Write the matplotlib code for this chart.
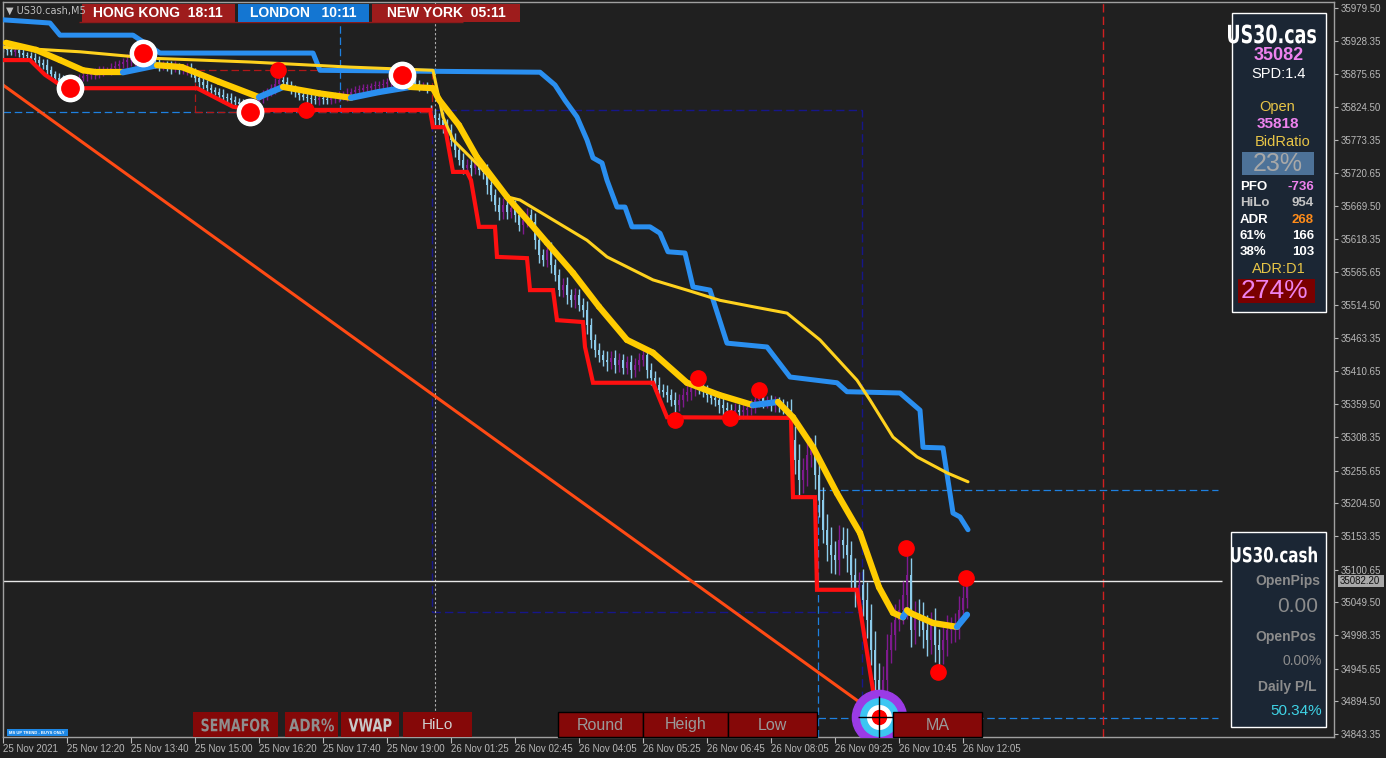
import numpy as np
import matplotlib
matplotlib.use("Agg")
import matplotlib.pyplot as plt
from matplotlib.patches import Rectangle, PathPatch
from matplotlib.collections import LineCollection
from matplotlib.textpath import TextPath
from matplotlib.font_manager import FontProperties
from matplotlib.transforms import Affine2D, IdentityTransform

plt.rcParams['font.family'] = ['Liberation Sans', 'DejaVu Sans']

# ---------------- data (US30.cash M5) ----------------
first_open = 35920
day_open = 35818          # opening price of 26 Nov (bar 107)
closes = [
    35917, 35914, 35911, 35914, 35909, 35906, 35904, 35901, 35898, 35893,
    35890, 35882, 35876, 35870, 35864, 35861, 35859, 35864, 35867,
    35870, 35873, 35875, 35876, 35879, 35879,
    35882, 35882, 35886, 35889, 35892, 35895, 35898,
    35901, 35906, 35911, 35904, 35898,
    35895, 35892, 35889, 35890, 35887, 35886, 35889, 35882, 35882, 35886, 35879,
    35870, 35864, 35859, 35854, 35851, 35848, 35843, 35840, 35839, 35835, 35832, 35829, 35826, 35823, 35826,
    35832, 35839, 35843, 35848, 35854, 35861,
    35867, 35864, 35859,
    35851, 35848, 35843, 35840, 35839, 35837, 35835, 35839, 35837,
    35835, 35839, 35840, 35842, 35843, 35845, 35848, 35851, 35851, 35854,
    35854, 35857, 35857, 35859, 35860, 35864, 35867, 35870, 35873, 35870, 35867, 35864, 35860, 35857, 35857, 35854,
    # 26 Nov
    35812, 35807, 35804, 35796,
    35789, 35773, 35757, 35742, 35729,
    35734, 35729, 35738, 35726, 35723,
    35702, 35687, 35671, 35660, 35671,
    35660, 35667, 35656, 35640, 35648, 35656, 35645,
    35616, 35593, 35585, 35601, 35577, 35562,
    35538, 35546, 35530, 35522, 35530, 35515, 35507,
    35483, 35460, 35444, 35436, 35429,
    35425, 35432, 35421, 35429, 35416, 35425, 35413, 35421, 35429, 35436,
    35413, 35401, 35390, 35382, 35379,
    35374, 35366, 35358, 35366, 35374, 35379, 35385,
    35389, 35385, 35379, 35374, 35369, 35366,
    35358, 35353, 35350, 35347, 35350, 35347, 35350, 35353, 35358, 35366, 35369, 35363,
    35363, 35360, 35361, 35358, 35353, 35350,
    35303, 35272, 35241, 35256, 35280, 35288, 35249,
    35209, 35163, 35139, 35123, 35116, 35147,
    35139, 35123, 35092, 35069, 35076, 35053,
    35022, 34975, 34928, 34896, 34928,
    34975, 34999, 35022, 35037,
    35061, 35092, 35006, 35030,
    35022, 35006, 34990, 35014, 34983, 34975, 34990, 35006,
    35006, 35014, 35037, 35056, 35082,
]
wicks = [
    6, 8, 5, 7, 6, 9, 5, 6, 8, 7, 6, 9, 7, 5, 8, 10, 8, 6, 7, 6,
    5, 8, 6, 7, 9, 6, 5, 7, 8, 6, 7, 9, 10, 12, 8, 6, 7, 5, 6, 8,
    7, 6, 9, 7, 5, 6, 8, 7, 6, 9, 7, 8, 6, 5, 7, 9, 6, 8, 7, 6,
    8, 10, 9, 7, 6, 8, 7, 6, 9, 12, 8, 7, 6, 8, 7, 5, 9, 7, 6, 8,
    7, 6, 5, 8, 7, 6, 9, 7, 6, 8, 6, 7, 5, 8, 7, 9, 6, 8, 10, 12,
    9, 7, 6, 8, 7, 6, 7,
    9, 10, 8, 12, 10, 9, 11, 8, 10, 9, 12, 10, 8, 11, 13, 10, 9, 12, 11, 10,
    9, 12, 10, 14, 11, 9, 13, 12, 10, 11, 12, 10, 9, 11, 13, 10, 12, 9, 11, 14,
    12, 10, 11, 9, 13, 10, 12, 11, 9, 10, 12, 11, 10, 9, 13, 11, 10, 12, 9, 11,
    10, 12, 9, 11, 10, 13, 12, 10, 9, 11, 10, 9, 12, 11, 10, 9, 12, 10, 11, 9,
    10, 12, 11, 9, 10, 11, 12, 10, 9, 11,
    18, 22, 25, 20, 24, 19, 23, 26, 21, 25, 28, 22, 24, 20, 26, 23, 27, 21, 25, 28,
    24, 30, 26, 22, 25, 20, 24, 18, 22, 38, 26, 22, 25, 28, 24, 21, 27, 25, 22, 24,
    20, 18, 22, 19, 16,
]

# HiLo lower band (red)
hilo_dn_bar = [0, 6.75, 10.5, 15.5, 48.5, 57.5, 62.5, 106.75, 107.5, 110.5, 112.5, 116, 117, 119,
               123, 123.5, 131, 131.75, 137.5, 138.5, 145, 145.5, 147.5, 162.5, 166, 197, 197.5,
               203, 203.5, 213.5, 217.5, 219]
hilo_dn_px = [35898, 35898, 35875, 35854, 35854, 35825, 35820, 35820, 35793, 35793, 35723, 35723, 35710, 35637,
              35637, 35590, 35588, 35538, 35538, 35491, 35488, 35449, 35393, 35393, 35339, 35338, 35214,
              35214, 35069, 35069, 34912, 34871]
# HiLo upper band (blue)
hilo_up_bar = [0, 11.75, 14.25, 32.5, 39.25, 77.5, 79.25, 134.25, 138, 140.5, 143.5, 146, 147.5, 149.75,
               151, 153.5, 155.5, 157.25, 161.75, 164.25, 166.25, 170.5, 172.5, 176.75, 181, 191, 196.75,
               208.5, 211, 224.25, 229.25, 230, 235, 237.5, 239.25, 241.25]
hilo_up_px = [35961, 35956, 35937, 35937, 35909, 35909, 35882, 35879, 35859, 35835, 35809, 35773, 35745, 35737,
              35710, 35668, 35668, 35637, 35637, 35627, 35598, 35596, 35543, 35538, 35455, 35449, 35402,
              35393, 35379, 35377, 35350, 35292, 35291, 35189, 35183, 35163]
# fast MA (thick, yellow falling / blue rising)
ma_fast_bar = [0.75, 8.25, 14.25, 20, 23.5, 30, 38.5, 44.75, 54, 64, 70, 79, 87, 94, 101.75, 107.5, 109,
               114, 118.5, 126, 131.75, 136, 142.5, 149, 156, 162.5, 171, 179, 187.5, 193.75, 197.5,
               202.5, 208.5, 214.25, 219, 222.5, 225, 226, 226.75, 232.5, 238.5, 241]
ma_fast_px = [35925, 35914, 35898, 35882, 35879, 35879, 35890, 35887, 35864, 35840, 35856, 35846, 35839, 35848,
              35856, 35854, 35836, 35796, 35746, 35684, 35643, 35612, 35565, 35512, 35460, 35440, 35393,
              35374, 35358, 35363, 35339, 35292, 35220, 35158, 35073, 35033, 35026, 35037, 35033, 35017,
              35011, 35030]
# slow MA (thin yellow)
ma_slow_bar = [0, 19.25, 36.75, 61.75, 86.75, 107.5, 110, 112.5, 119.25, 126, 129.25, 137.5, 146, 151,
               162.5, 171, 179.25, 187.5, 196, 204.25, 213.5, 216.75, 222.5, 228.5, 236, 241.25]
ma_slow_px = [35918, 35911, 35901, 35895, 35887, 35882, 35809, 35773, 35731, 35684, 35679, 35648, 35616, 35590,
              35554, 35538, 35522, 35512, 35502, 35460, 35397, 35366, 35308, 35277, 35252, 35238]
# trend line
trend_bar = [0, 215.5]
trend_px = [35859, 34887]
# semafor points
ring_bar = [16.75, 35, 61.75, 99.75]
ring_px = [35854, 35909, 35817, 35875]
dot_bar = [68.75, 75.75, 168, 173.75, 181.75, 189, 225.75, 233.75, 240.75]
dot_px = [35882, 35820, 35335, 35400, 35338, 35382, 35134, 34940, 35087]
target_bar, target_px = 219, 34870

bid = 35082.20
yticks = [35979.50, 35928.35, 35875.65, 35824.50, 35773.35, 35720.65, 35669.50, 35618.35,
          35565.65, 35514.50, 35463.35, 35410.65, 35359.50, 35308.35, 35255.65, 35204.50,
          35153.35, 35100.65, 35049.50, 34998.35, 34945.65, 34894.50, 34843.35]
xtick_labels = ["25 Nov 2021", "25 Nov 12:20", "25 Nov 13:40", "25 Nov 15:00", "25 Nov 16:20",
                "25 Nov 17:40", "25 Nov 19:00", "26 Nov 01:25", "26 Nov 02:45", "26 Nov 04:05",
                "26 Nov 05:25", "26 Nov 06:45", "26 Nov 08:05", "26 Nov 09:25", "26 Nov 10:45",
                "26 Nov 12:05"]

# ---------------- figure ----------------
W, H = 1386, 758
BG = '#202020'
fig = plt.figure(figsize=(W / 100, H / 100), dpi=100)
fig.patch.set_facecolor(BG)
ax = fig.add_axes([3 / W, 1 - 737 / H, (1334 - 3) / W, (737 - 2) / H])
ax.set_facecolor(BG)
ymin, ymax = 34838.6, 35988.9
ax.set_xlim(0, 332.75)
ax.set_ylim(ymin, ymax)


def frect(x0, y0, x1, y1, **kw):
    fig.patches.append(Rectangle((x0 / W, 1 - y1 / H), (x1 - x0) / W, (y1 - y0) / H,
                                 transform=fig.transFigure, **kw))


def ftext(x, y, s, **kw):
    kw.setdefault('va', 'center')
    kw.setdefault('ha', 'center')
    fig.text(x / W, 1 - y / H, s, **kw)


def narrow_text(xc, yc, s, w_px, h_px, color):
    # condensed bold lettering, squeezed to the box it fills in the original
    tp = TextPath((0, 0), s, size=100, prop=FontProperties(family='DejaVu Sans', weight='bold'))
    ext = tp.get_extents()
    tr = (Affine2D().translate(-ext.x0 - ext.width / 2, -ext.y0 - ext.height / 2)
          .scale(w_px / ext.width, h_px / ext.height).translate(xc, H - yc))
    fig.patches.append(PathPatch(tr.transform_path(tp), transform=IdentityTransform(),
                                 fc=color, ec='none', zorder=3))


# helper levels / objects
DASH = (0, (6, 3))
ax.hlines(35817, 0, 106.75, color='#1E80E0', lw=0.9, ls=DASH, zorder=1)
ax.vlines(84.25, 35817, 35958, color='#1E80E0', lw=0.9, ls=DASH, zorder=1)
ax.hlines(35958, 19, 115, color='#8B1A1A', lw=1, zorder=1)
ax.add_patch(Rectangle((48, 35817), 107.25 - 48, 35882 - 35817, fill=False,
                       ec='#B01818', lw=0.9, ls=DASH, zorder=1))
ax.add_patch(Rectangle((107.25, 35034), 214.75 - 107.25, 35820 - 35034, fill=False,
                       ec='#16168A', lw=1, ls=DASH, zorder=1))
ax.vlines(214.75, ymin, 35034, color='#16168A', lw=1, ls=DASH, zorder=1)
ax.vlines(108, ymin, ymax, color='#B0B0B0', lw=0.8, ls=(0, (2, 2)), zorder=1)
ax.hlines([35225, 34868], 203.75, 303.75, color='#1E80E0', lw=0.9, ls=DASH, zorder=1)
ax.vlines(203.75, ymin, 35225, color='#1E80E0', lw=0.9, ls=DASH, zorder=1)
ax.vlines(275, ymin, ymax, color='#D02020', lw=1, ls=DASH, zorder=1)
ax.hlines(bid, 0, 304.75, color='#E8E8E8', lw=1, zorder=1)

# trend line
ax.plot(trend_bar, trend_px, color='#FF4A14', lw=2.2, zorder=2, solid_capstyle='butt')

# candles
c = np.array(closes, dtype=float)
o = np.r_[first_open, c[:-1]]
o[107] = day_open
w = np.array(wicks, dtype=float)
hi = np.maximum(o, c) + w
lo = np.minimum(o, c) - w
xb = np.arange(len(c))
col = np.where(c >= o, '#7E1A8E', '#8CCBEA')
ax.vlines(xb, lo, hi, colors=col, lw=1, zorder=2)
ax.bar(xb, np.maximum(np.abs(c - o), 1.5), bottom=np.minimum(o, c), width=0.7,
       color=col, lw=0, zorder=2)

# bands and MAs
ax.plot(hilo_dn_bar, hilo_dn_px, color='#FF1010', lw=3, zorder=3, solid_joinstyle='miter')
ax.plot(hilo_up_bar, hilo_up_px, color='#2A8FF0', lw=3.6, zorder=3, solid_capstyle='round')
ax.plot(ma_slow_bar, ma_slow_px, color='#FFD21E', lw=2.2, zorder=3, solid_capstyle='round')
pts = np.column_stack([ma_fast_bar, ma_fast_px])
segs = np.stack([pts[:-1], pts[1:]], axis=1)
seg_col = ['#2A8FF0' if b > a else '#FFCC00' for a, b in zip(ma_fast_px[:-1], ma_fast_px[1:])]
ax.add_collection(LineCollection(segs, colors=seg_col, linewidths=4.5, capstyle='round', zorder=4))

# semafor
ax.plot(ring_bar, ring_px, 'o', ms=19, color='white', mec='white', zorder=6)
ax.plot(ring_bar, ring_px, 'o', ms=12.5, color='#FF0000', mec='#FF0000', zorder=7)
ax.plot(dot_bar, dot_px, 'o', ms=11, color='#FF0000', mec='#FF0000', zorder=6)
for ms, cc in [(39, '#9B3BE6'), (27, '#3CC6F2'), (17, 'white'), (10, '#FF0000')]:
    ax.plot([target_bar], [target_px], 'o', ms=ms, color=cc, mec=cc, zorder=8)
ax.plot([target_bar], [target_px], '+', ms=30, color='black', mew=1, zorder=9)

# axes styling
for sp in ax.spines.values():
    sp.set_color('#A0A0A0')
    sp.set_linewidth(1)
ax.set_yticks(yticks)
ax.set_yticklabels([f"{v:.2f}" for v in yticks])
ax.yaxis.tick_right()
ax.tick_params(axis='y', direction='out', length=3, colors='#B8B8B8', labelsize=7, pad=2,
               width=0.8)
ax.set_xticks(np.arange(0, 241, 16))
ax.set_xticklabels(xtick_labels, ha='left')
ax.tick_params(axis='x', direction='out', length=4, colors='#B8B8B8', labelsize=7, pad=1,
               width=0.8)

# header
ftext(6, 11, "\u25BC US30.cash,M5", ha='left', color='#C0C0C0', fontsize=7, family=['DejaVu Sans'])
frect(82, 4, 235, 22, fc='#9E1C1C', ec='none')
frect(238, 4, 369, 22, fc='#1476D2', ec='none')
frect(372, 4, 520, 22, fc='#9E1C1C', ec='none')
ftext(158, 13, "HONG KONG  18:11", color='white', fontsize=10, fontweight='bold')
ftext(303, 13, "LONDON   10:11", color='white', fontsize=10, fontweight='bold')
ftext(446, 13, "NEW YORK  05:11", color='white', fontsize=10, fontweight='bold')

# right info panel (top)
PANEL = '#1B2634'
YEL = '#E8C547'
VIO = '#EE82EE'
frect(1232, 13, 1326, 312, fc=PANEL, ec='white', lw=1)
narrow_text(1272, 34, "US30.cas", 88, 19, 'white')
ftext(1279, 56, "35082", color=VIO, fontsize=13, fontweight='bold')
ftext(1279, 74, "SPD:1.4", color='white', fontsize=10.5)
ftext(1277, 107, "Open", color=YEL, fontsize=10.5)
ftext(1278, 124, "35818", color=VIO, fontsize=11, fontweight='bold')
ftext(1283, 142, "BidRatio", color=YEL, fontsize=10.5)
frect(1242, 152, 1314, 175, fc='#4D7298', ec='none')
ftext(1278, 164, "23%", color='#A8A8A8', fontsize=18)
rows = [("PFO", "-736", 'white', VIO), ("HiLo", "954", '#C4C4C4', '#C4C4C4'),
        ("ADR", "268", 'white', '#FF8C1A'), ("61%", "166", 'white', 'white'),
        ("38%", "103", 'white', 'white')]
for k, (lab, val, lc, vc) in enumerate(rows):
    yy = 187 + k * 16.3
    ftext(1240, yy, lab, ha='left', color=lc, fontsize=9.5, fontweight='bold')
    ftext(1314, yy, val, ha='right', color=vc, fontsize=9.5, fontweight='bold')
ftext(1279, 269, "ADR:D1", color=YEL, fontsize=10.5)
frect(1238, 279, 1315, 303, fc='#7A0000', ec='none')
ftext(1274, 291, "274%", color=VIO, fontsize=19)

# right info panel (bottom)
GRY = '#8C8C8C'
frect(1231, 532, 1326, 727, fc=PANEL, ec='white', lw=1)
narrow_text(1274, 554.5, "US30.cash", 86, 16, 'white')
ftext(1288, 581, "OpenPips", color=GRY, fontsize=10, fontweight='bold')
ftext(1318, 607, "0.00", ha='right', color=GRY, fontsize=15)
ftext(1286, 637, "OpenPos", color=GRY, fontsize=10, fontweight='bold')
ftext(1322, 661, "0.00%", ha='right', color=GRY, fontsize=10)
ftext(1287, 687, "Daily P/L", color=GRY, fontsize=10, fontweight='bold')
ftext(1322, 711, "50.34%", ha='right', color='#3FD3E6', fontsize=11)

# bid price tag
frect(1338, 575, 1384, 587, fc='#A8A8A8', ec='none')
ftext(1340, 581, "35082.20", ha='left', color='#101010', fontsize=7)

# bottom buttons
BTN = '#850808'
for x0, x1, lab, tc, tw in [(193, 278, "SEMAFOR", '#8E8E8E', 68),
                            (285, 338, "ADR%", '#8E8E8E', 45),
                            (341, 399, "VWAP", '#C8C8C8', 43)]:
    frect(x0, 712, x1, 737, fc=BTN, ec='none')
    narrow_text((x0 + x1) / 2, 725, lab, tw, 13, tc)
frect(403, 712, 472, 737, fc=BTN, ec='none')
ftext(437.5, 725, "HiLo", color='#D0D0D0', fontsize=11)
for x0, x1, lab in [(558, 643, "Round"), (643, 728, "Heigh"), (728, 817, "Low"), (893, 982, "MA")]:
    frect(x0, 712, x1, 737, fc=BTN, ec='black', lw=1)
    ftext((x0 + x1) / 2, 725, lab, color='#9A9A9A', fontsize=11.5)

frect(7, 729, 68, 736, fc='#1E88E5', ec='none')
ftext(37, 732.5, "MS UP TREND - BUYS ONLY", color='white', fontsize=3, fontweight='bold')

fig.savefig('out.png', dpi=100, facecolor=BG)
